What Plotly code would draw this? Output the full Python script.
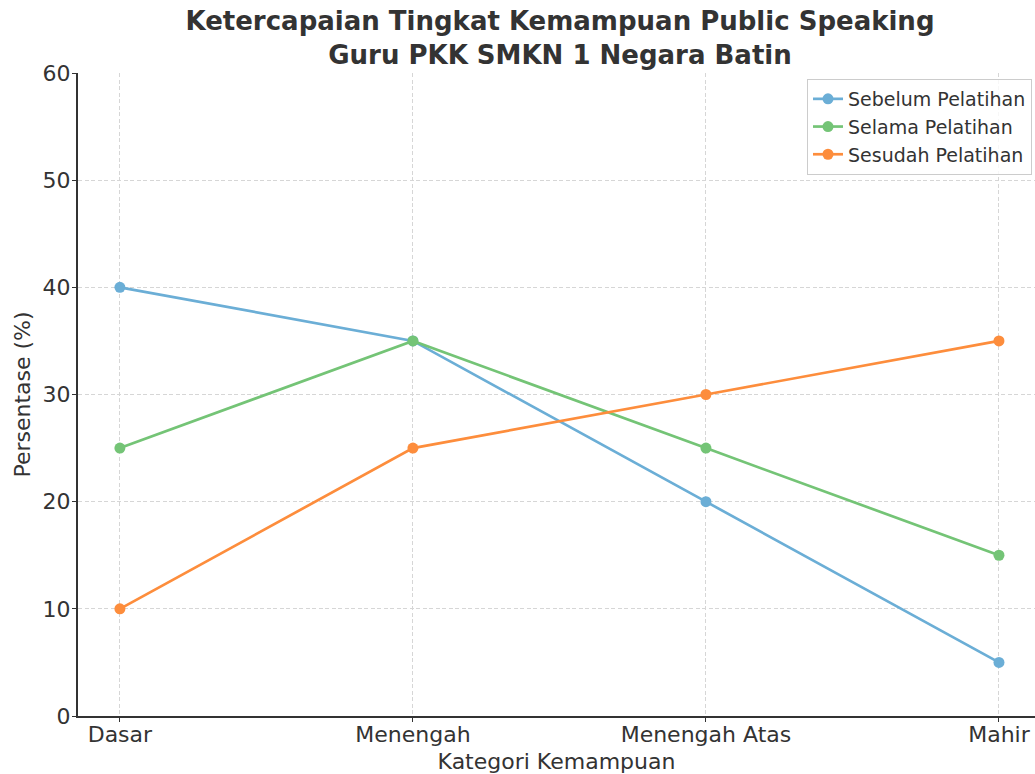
import plotly.graph_objects as go

categories = ["Dasar", "Menengah", "Menengah Atas", "Mahir"]
sebelum = [40, 35, 20, 5]
selama = [25, 35, 25, 15]
sesudah = [10, 25, 30, 35]
y_ticks = [0, 10, 20, 30, 40, 50, 60]

series = [
    ("Sebelum Pelatihan", sebelum, "#6baed6"),
    ("Selama Pelatihan", selama, "#74c476"),
    ("Sesudah Pelatihan", sesudah, "#fd8d3c"),
]

fig = go.Figure()
x_idx = list(range(len(categories)))
for name, vals, col in series:
    fig.add_trace(go.Scatter(
        x=x_idx, y=vals, name=name, mode="lines+markers",
        line=dict(color=col, width=2.7),
        marker=dict(color=col, size=11),
    ))

W, H = 1035, 774
L, T, B = 78, 73, 58
font_main = "DejaVu Sans, Verdana, sans-serif"
grid = dict(showgrid=True, gridcolor="#d6d6d6", griddash="4px,2.5px", gridwidth=1)
fig.update_layout(
    width=W, height=H,
    margin=dict(l=L, r=0, t=T, b=B),
    paper_bgcolor="white", plot_bgcolor="white",
    font=dict(family=font_main, color="#333333", size=22),
    title=dict(
        text="<b>Ketercapaian Tingkat Kemampuan Public Speaking<br>Guru PKK SMKN 1 Negara Batin</b>",
        x=560 / W, xanchor="center",
        yref="container", y=1 - 30 / H, yanchor="top",
        font=dict(size=26, color="#333333", family=font_main),
    ),
    xaxis=dict(
        range=[-0.143, 3.123],
        tickvals=x_idx, ticktext=categories,
        showline=True, linecolor="#333333", linewidth=2,
        ticks="outside", ticklen=4, tickcolor="#333333",
        tickfont=dict(size=22), ticklabelstandoff=-6,
        zeroline=False,
        title=dict(text="Kategori Kemampuan", font=dict(size=22), standoff=8),
        **grid,
    ),
    yaxis=dict(
        range=[0, 60], tickvals=y_ticks,
        showline=True, linecolor="#333333", linewidth=2,
        ticks="outside", ticklen=4, tickcolor="#333333",
        tickfont=dict(size=22), ticklabelstandoff=-3,
        zeroline=False,
        title=dict(text="Persentase (%)", font=dict(size=22), standoff=6),
        **grid,
    ),
    legend=dict(
        x=(1032 - L) / (W - L), xanchor="right",
        y=1 - (79 - T) / (H - T - B), yanchor="top",
        bordercolor="#cccccc", borderwidth=1, bgcolor="rgba(255,255,255,0.8)",
        font=dict(size=19, color="#333333"),
    ),
    showlegend=True,
)

fig.write_html(
    "out.html",
    config={"displayModeBar": False},
    post_script="document.body.style.margin='0';document.body.style.overflow='hidden';",
)
